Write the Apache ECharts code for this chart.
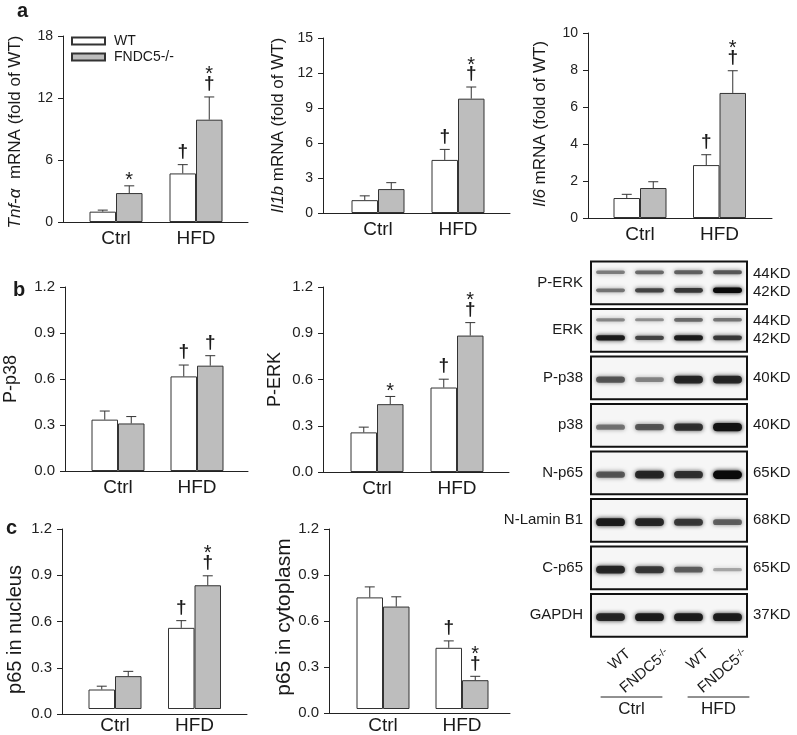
<!DOCTYPE html>
<html><head><meta charset="utf-8">
<script src="https://cdn.jsdelivr.net/npm/echarts@6/dist/echarts.min.js"></script>
<style>html,body{margin:0;padding:0;background:#fff}#c{width:797px;height:735px}</style>
</head><body><div id="c"></div>
<script>
// ---------- data ----------
const groups = ['Ctrl', 'HFD'];
const seriesNames = ['WT', 'FNDC5-/-'];

// a: mRNA (fold of WT)
const tnfWT = [1.0, 4.7],   tnfWTErr = [0.15, 0.85], tnfKO = [2.8, 9.9],  tnfKOErr = [0.7, 2.2];
const tnfWTSig = ['', '†'], tnfKOSig = ['*', '*†'];
const il1bWT = [1.1, 4.55], il1bWTErr = [0.37, 0.9], il1bKO = [2.05, 9.8], il1bKOErr = [0.55, 1.0];
const il1bWTSig = ['', '†'], il1bKOSig = ['', '*†'];
const il6WT = [1.08, 2.86], il6WTErr = [0.2, 0.56],  il6KO = [1.62, 6.76], il6KOErr = [0.34, 1.2];
const il6WTSig = ['', '†'], il6KOSig = ['', '*†'];
// b: phosphorylation
const pp38WT = [0.335, 0.617], pp38WTErr = [0.056, 0.074], pp38KO = [0.31, 0.687], pp38KOErr = [0.045, 0.065];
const pp38WTSig = ['', '†'], pp38KOSig = ['', '†'];
const perkWT = [0.257, 0.548], perkWTErr = [0.034, 0.054], perkKO = [0.44, 0.885], perkKOErr = [0.05, 0.084];
const perkWTSig = ['', '†'], perkKOSig = ['*', '*†'];
// c: p65 localisation
const nucWT = [0.13, 0.541], nucWTErr = [0.022, 0.048], nucKO = [0.219, 0.825], nucKOErr = [0.032, 0.063];
const nucWTSig = ['', '†'], nucKOSig = ['', '*†'];
const cytWT = [0.744, 0.408], cytWTErr = [0.07, 0.046], cytKO = [0.683, 0.192], cytKOErr = [0.065, 0.026];
const cytWTSig = ['', '†'], cytKOSig = ['', '*†'];

// western blot panel (band intensity 0..1 per lane)
const blotRows = ['P-ERK', 'ERK', 'P-p38', 'p38', 'N-p65', 'N-Lamin B1', 'C-p65', 'GAPDH'];
const blotKD = ['44KD\n42KD', '44KD\n42KD', '40KD', '40KD', '65KD', '68KD', '65KD', '37KD'];
const blotLanes = ['WT', 'FNDC5-/-', 'WT', 'FNDC5-/-'];
const blotMain = [
  [0.45, 0.7, 0.75, 1.0],
  [0.9, 0.7, 0.9, 0.75],
  [0.6, 0.35, 0.85, 0.85],
  [0.45, 0.6, 0.8, 0.95],
  [0.6, 0.85, 0.8, 1.0],
  [0.9, 0.85, 0.75, 0.55],
  [0.85, 0.75, 0.55, 0.15],
  [0.85, 0.9, 0.9, 0.9]
];
const blotUpper = [
  [0.4, 0.5, 0.55, 0.6],
  [0.35, 0.3, 0.5, 0.45],
  null, null, null, null, null, null
];

// ---------- layout / style ----------
const FONT = '"Liberation Sans", Arial, Helvetica, sans-serif';
const INK = '#1a1a1a';
const panels = [
  {title:'{i|Tnf-α}  mRNA (fold of WT)', wt:tnfWT, wtErr:tnfWTErr, ko:tnfKO, koErr:tnfKOErr, wtSig:tnfWTSig, koSig:tnfKOSig,
   max:18, step:6, dec:0, L:63, R:248, T:36, B:222, c0:116, c1:196, gap:39, nameSize:17, tickSize:14, shift:6},
  {title:'{i|Il1b} mRNA (fold of WT)', wt:il1bWT, wtErr:il1bWTErr, ko:il1bKO, koErr:il1bKOErr, wtSig:il1bWTSig, koSig:il1bKOSig,
   max:15, step:3, dec:0, L:323, R:510, T:38, B:213, c0:378, c1:458, gap:36, nameSize:17, tickSize:14, shift:0},
  {title:'{i|Il6} mRNA (fold of WT)', wt:il6WT, wtErr:il6WTErr, ko:il6KO, koErr:il6KOErr, wtSig:il6WTSig, koSig:il6KOSig,
   max:10, step:2, dec:0, L:588, R:772, T:33, B:218, c0:640, c1:719.5, gap:39, nameSize:17, tickSize:14, shift:-3},
  {title:'P-p38', wt:pp38WT, wtErr:pp38WTErr, ko:pp38KO, koErr:pp38KOErr, wtSig:pp38WTSig, koSig:pp38KOSig,
   max:1.2, step:0.3, dec:1, L:65, R:248, T:287, B:471, c0:118, c1:197, gap:45, nameSize:18, tickSize:15, shift:0},
  {title:'P-ERK', wt:perkWT, wtErr:perkWTErr, ko:perkKO, koErr:perkKOErr, wtSig:perkWTSig, koSig:perkKOSig,
   max:1.2, step:0.3, dec:1, L:323, R:509, T:287, B:472, c0:377, c1:457, gap:39, nameSize:18, tickSize:15, shift:0},
  {title:'p65 in nucleus', wt:nucWT, wtErr:nucWTErr, ko:nucKO, koErr:nucKOErr, wtSig:nucWTSig, koSig:nucKOSig,
   max:1.2, step:0.3, dec:1, L:62, R:247, T:529, B:714, c0:115, c1:194.5, gap:37, nameSize:20, tickSize:15, shift:16},
  {title:'p65 in cytoplasm', wt:cytWT, wtErr:cytWTErr, ko:cytKO, koErr:cytKOErr, wtSig:cytWTSig, koSig:cytKOSig,
   max:1.2, step:0.3, dec:1, L:329, R:510, T:529, B:713, c0:383, c1:462, gap:30, nameSize:21, tickSize:15, shift:-8}
];
const BW = 26.5;

function errSig(vals, errs, sigs, side) {
  return function (params, api) {
    const i = params.dataIndex;
    const v = vals[i], e = errs[i], s = sigs[i];
    const base = api.coord([i, v]);
    const top = api.coord([i, v + e]);
    const x = base[0] + side * BW / 2;
    const ch = [
      {type:'line', shape:{x1:x, y1:base[1], x2:x, y2:top[1]}, style:{stroke:'#333', lineWidth:1}},
      {type:'line', shape:{x1:x - 5, y1:top[1], x2:x + 5, y2:top[1]}, style:{stroke:'#333', lineWidth:1}}
    ];
    const hasD = s.indexOf('†') >= 0, hasS = s.indexOf('*') >= 0;
    if (hasD) ch.push({type:'text', style:{text:'†', x:x, y:top[1] - 13, align:'center', verticalAlign:'middle',
      fontSize:19, fontFamily:FONT, fontWeight:'bold', fill:INK}});
    if (hasS) ch.push({type:'text', style:{text:'*', x:x, y:top[1] - (hasD ? 26 : 9) + 4, align:'center', verticalAlign:'middle',
      fontSize:20, fontFamily:FONT, fill:INK}});
    return {type:'group', children:ch};
  };
}

const grid = [], xAxis = [], yAxis = [], series = [];
panels.forEach((p, k) => {
  const fi = 2 * k, bi = 2 * k + 1;
  const band = p.c1 - p.c0;
  grid.push({left:p.L, top:p.T, width:p.R - p.L, height:p.B - p.T});
  grid.push({left:p.c0 - band / 2, top:p.T, width:2 * band, height:p.B - p.T});
  xAxis.push({gridIndex:fi, type:'value', min:0, max:1, axisLine:{show:true, lineStyle:{color:'#222', width:1}},
    axisTick:{show:false}, axisLabel:{show:false}, splitLine:{show:false}});
  xAxis.push({gridIndex:bi, type:'category', data:groups, axisLine:{show:false}, axisTick:{show:false},
    axisLabel:{fontSize:19, color:INK, margin:7, fontFamily:FONT}});
  const pad = p.shift >= 0 ? [0, p.shift, 0, 0] : [0, 0, 0, -p.shift];
  yAxis.push({gridIndex:fi, type:'value', min:0, max:p.max, interval:p.step,
    name:p.title, nameLocation:'middle', nameGap:p.gap, nameRotate:90,
    nameTextStyle:{fontSize:p.nameSize, color:INK, fontFamily:FONT, padding:pad,
      rich:{i:{fontStyle:'italic', fontSize:p.nameSize, color:INK, fontFamily:FONT}}},
    axisLine:{show:true, lineStyle:{color:'#222', width:1}},
    axisTick:{show:true, length:5, lineStyle:{color:'#222'}},
    axisLabel:{fontSize:p.tickSize, color:'#222', margin:10, fontFamily:FONT, formatter:v => v.toFixed(p.dec)},
    splitLine:{show:false}});
  yAxis.push({gridIndex:bi, type:'value', min:0, max:p.max, show:false});
  series.push({type:'bar', name:seriesNames[0], xAxisIndex:bi, yAxisIndex:bi, data:p.wt, barWidth:BW, barGap:'0%',
    itemStyle:{color:'#ffffff', borderColor:'#333', borderWidth:1}, silent:true});
  series.push({type:'bar', name:seriesNames[1], xAxisIndex:bi, yAxisIndex:bi, data:p.ko, barWidth:BW, barGap:'0%',
    itemStyle:{color:'#bdbdbd', borderColor:'#333', borderWidth:1}, silent:true});
  series.push({type:'custom', xAxisIndex:bi, yAxisIndex:bi, data:p.wt.map((v, i) => [i, v]),
    renderItem:errSig(p.wt, p.wtErr, p.wtSig, -1), silent:true, z:5});
  series.push({type:'custom', xAxisIndex:bi, yAxisIndex:bi, data:p.ko.map((v, i) => [i, v]),
    renderItem:errSig(p.ko, p.koErr, p.koSig, 1), silent:true, z:5});
});

// ---------- blot panel ----------
const gB = grid.length;
grid.push({left:591, top:259, width:156, height:380});
const xB = xAxis.length;
xAxis.push({gridIndex:gB, type:'category', data:blotLanes, show:false});
const yB = yAxis.length;
yAxis.push({gridIndex:gB, type:'category', data:blotRows, inverse:true, axisLine:{show:false}, axisTick:{show:false},
  axisLabel:{fontSize:15, color:INK, margin:8, fontFamily:FONT}});
yAxis.push({gridIndex:gB, type:'category', data:blotKD, inverse:true, position:'right', axisLine:{show:false}, axisTick:{show:false},
  axisLabel:{fontSize:15, color:INK, margin:6, fontFamily:FONT, lineHeight:18}});
series.push({type:'custom', xAxisIndex:xB, yAxisIndex:yB, data:blotRows.map((r, i) => [0, i]), silent:true, z:1,
  renderItem:function (params, api) {
    const cs = params.coordSys;
    const yc = api.coord([0, api.value(1)])[1];
    const h = api.size([0, 1])[1] * 0.9;
    return {type:'rect', shape:{x:cs.x, y:yc - h / 2, width:cs.width, height:h},
      style:{fill:'#f6f6f6', stroke:'#111', lineWidth:2}};
  }});
const bandData = [];
blotMain.forEach((row, r) => row.forEach((v, l) => bandData.push([l, r, v, 0])));
blotUpper.forEach((row, r) => { if (row) row.forEach((v, l) => bandData.push([l, r, v, 1])); });
series.push({type:'custom', xAxisIndex:xB, yAxisIndex:yB, data:bandData, silent:true, z:2,
  renderItem:function (params, api) {
    const l = api.value(0), r = api.value(1), v = api.value(2), up = api.value(3);
    const c = api.coord([l, r]);
    const rowH = api.size([0, 1])[1];
    const laneW = api.size([1, 0])[0];
    const dbl = blotUpper[r] != null;
    let yc = c[1] + rowH * 0.04;
    if (dbl) yc = c[1] + (up ? -0.22 : 0.16) * rowH;
    const h = (dbl ? 2 : 2.5) + (dbl ? 3.5 : 6) * v;
    const w = laneW * 0.74;
    const g = Math.round(150 - 140 * v);
    const col = 'rgba(' + g + ',' + g + ',' + g + ',' + (0.55 + 0.45 * v).toFixed(2) + ')';
    return {type:'rect', shape:{x:c[0] - w / 2, y:yc - h / 2, width:w, height:h, r:h / 2},
      style:{fill:col, shadowBlur:4, shadowColor:col}};
  }});

// lane labels
const gL = grid.length;
grid.push({left:609, top:640, width:156, height:6});
xAxis.push({gridIndex:gL, type:'category', data:blotLanes, axisLine:{show:false}, axisTick:{show:false},
  axisLabel:{rotate:40, margin:6, fontFamily:FONT, color:INK,
    formatter:v => v === 'FNDC5-/-' ? '{m|FNDC5}{s|-/-}' : '{m|' + v + '}',
    rich:{m:{fontSize:15, fontFamily:FONT, color:INK}, s:{fontSize:10, fontFamily:FONT, color:INK, verticalAlign:'top', lineHeight:10}}}});
yAxis.push({gridIndex:gL, type:'value', min:0, max:1, show:false});

// group labels
const gG = grid.length;
grid.push({left:588, top:697, width:174, height:1});
const xG = xAxis.length;
xAxis.push({gridIndex:gG, type:'category', data:groups, axisLine:{show:false}, axisTick:{show:false},
  axisLabel:{fontSize:17, color:INK, margin:3, fontFamily:FONT}});
const yG = yAxis.length;
yAxis.push({gridIndex:gG, type:'value', min:0, max:1, show:false});
series.push({type:'custom', xAxisIndex:xG, yAxisIndex:yG, data:groups.map((g, i) => [i, 1]), silent:true,
  renderItem:function (params, api) {
    const c = api.coord([api.value(0), 1]);
    const w = api.size([1, 0])[0] * 0.71;
    return {type:'line', shape:{x1:c[0] - w / 2, y1:c[1], x2:c[0] + w / 2, y2:c[1]}, style:{stroke:'#222', lineWidth:1}};
  }});

const option = {
  animation:false,
  backgroundColor:'#ffffff',
  textStyle:{fontFamily:FONT},
  grid:grid, xAxis:xAxis, yAxis:yAxis, series:series,
  legend:{data:seriesNames, orient:'vertical', left:71, top:34, padding:0, itemWidth:33, itemHeight:7, itemGap:2, icon:'rect',
    selectedMode:false, textStyle:{fontSize:14, color:INK, fontFamily:FONT, padding:[0, 0, 0, 4]}},
  graphic:[
    {type:'text', left:17, top:1, style:{text:'a', font:'bold 20px ' + FONT, fill:INK}},
    {type:'text', left:13, top:280, style:{text:'b', font:'bold 20px ' + FONT, fill:INK}},
    {type:'text', left:6, top:518, style:{text:'c', font:'bold 20px ' + FONT, fill:INK}}
  ]
};
const chart = echarts.init(document.getElementById('c'), null, {renderer:'canvas'});
chart.setOption(option);
</script></body></html>
